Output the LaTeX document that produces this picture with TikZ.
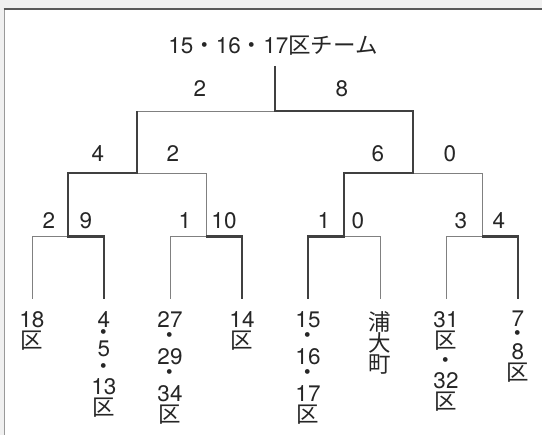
\documentclass[tikz,border=0pt]{standalone}
\usepackage{fontspec}
\setmainfont{TeX Gyre Heros}
\newfontfamily\jp{Noto Sans CJK JP}
\usepackage{tikz}
\newcommand{\dt}{{\jp ・}}
\newcommand{\ku}{{\jp 区}}
\newcommand{\bigfont}{\fontsize{22.5}{21}\selectfont\lineskiplimit=-30pt\lineskip=0pt}
\tikzset{
        win/.style={draw=black!75, line width=2.2pt, line join=miter},
        lose/.style={draw=black!50, line width=0.9pt},
        score/.style={font=\bigfont, text=black!85, inner sep=0pt},
        team/.style={font=\bigfont, text=black!85, align=center, anchor=north, inner xsep=0pt, inner ysep=12pt, execute at begin node=\rule{0pt}{20pt}},
    }
\begin{document}
\begin{tikzpicture}[x=1pt, y=-1pt]
        \useasboundingbox (0,0) rectangle (542,435);
        % scanned edge of the page
        \fill[black!6] (0,0) rectangle (542,8.5);
        \fill[black!6] (0,8.5) rectangle (3.5,435);
        \draw[black!40, line width=0.8pt] (4,435) -- (4,9);
        \draw[black!65, line width=1.1pt] (3.6,9) -- (542,9);

        % title and junctions
        \node[score] (title) at (273,46) {15\dt16\dt17\ku{\jp チーム}};
        \coordinate (top) at (275,66);
        \coordinate (fin) at (275,111);
        \coordinate (semi1) at (137,173);
        \coordinate (semi2) at (413,173);
        \coordinate (qf1) at (68,236.5);
        \coordinate (qf2) at (206,236.5);
        \coordinate (qf3) at (344,236.5);
        \coordinate (qf4) at (482,236.5);

        % teams
        \node[team] (t1) at (32,299) {18\\\ku};
        \node[team] (t2) at (104,299) {4\\[-8pt]\dt\\[-5pt]5\\[-3pt]\dt\\[-1pt]13\\\ku};
        \node[team] (t3) at (170,299) {27\\[-5pt]\dt\\29\\[-5pt]\dt\\34\\\ku};
        \node[team] (t4) at (242,299) {14\\\ku};
        \node[team] (t5) at (308,299) {15\\[-5pt]\dt\\16\\[-5pt]\dt\\17\\\ku};
        \node[team] (t6) at (380,299) {{\jp 浦}\\{\jp 大}\\{\jp 町}};
        \node[team] (t7) at (446,299) {31\\\ku\\[-1pt]\dt\\[-1pt]32\\\ku};
        \node[team] (t8) at (518,299) {7\\[-6pt]\dt\\[-3pt]8\\\ku};

        % scores
        \node[score] (sf1) at (200,89) {2};
        \node[score] (sf2) at (342,89) {8};
        \node[score] (ss1) at (98,154) {4};
        \node[score] (ss2) at (173,154) {2};
        \node[score] (ss3) at (378,154) {6};
        \node[score] (ss4) at (450,154) {0};
        \node[score] (sq1) at (49,221) {2};
        \node[score] (sq2) at (86,221) {9};
        \node[score] (sq3) at (185,221) {1};
        \node[score] (sq4) at (224,221) {10};
        \node[score] (sq5) at (324,221) {1};
        \node[score] (sq6) at (358,221) {0};
        \node[score] (sq7) at (461,221) {3};
        \node[score] (sq8) at (499,221) {4};

        % losing lines
        \draw[lose] (fin) -- (fin -| semi1);
        \draw[lose] (semi1) -| (qf2) -| (t3.north);
        \draw[lose] (semi2) -| (qf4) -| (t7.north);
        \draw[lose] (qf1) -| (t1.north);
        \draw[lose] (qf3) -| (t6.north);

        % winning lines
        \draw[win] (top) -- (fin) -| (semi2) -| (qf3) -| (t5.north);
        \draw[win] (fin -| semi1) -- (semi1) -| (qf1) -| (t2.north);
        \draw[win] (qf2) -| (t4.north);
        \draw[win] (qf4) -| (t8.north);
    \end{tikzpicture}
\end{document}
